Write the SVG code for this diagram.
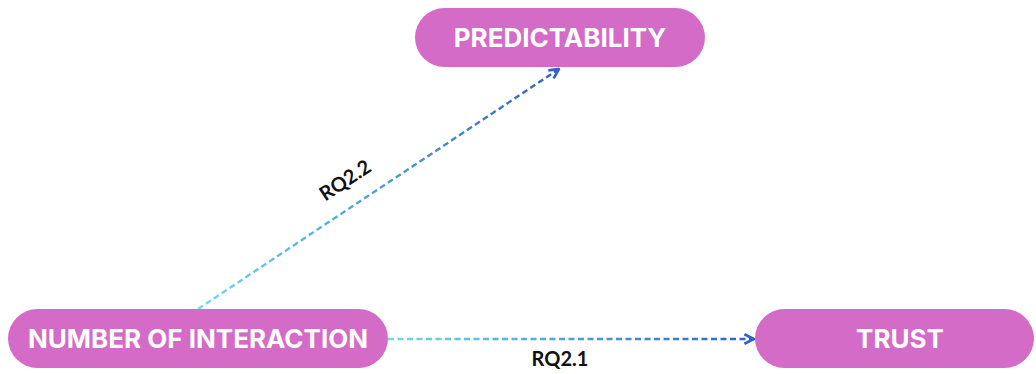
<svg xmlns="http://www.w3.org/2000/svg" width="1036" height="374" viewBox="0 0 1036 374">
<style>
.node{fill:#d46bc7;}
.nt{fill:#ffffff;font-family:Inter,"Noto Sans","Liberation Sans",sans-serif;font-weight:700;font-size:26px;text-anchor:middle;dominant-baseline:central;}
.edge{fill:none;stroke-width:2.4;stroke-dasharray:6 3.5;}
.lbl{fill:#111111;font-family:Lato,"Liberation Sans",sans-serif;font-weight:700;font-size:20px;text-anchor:middle;}
</style>
<defs>
<linearGradient id="g1" gradientUnits="userSpaceOnUse" x1="198" y1="309" x2="560" y2="68">
<stop offset="0" stop-color="#6ddcea"/>
<stop offset="1" stop-color="#2d63c2"/>
</linearGradient>
<linearGradient id="g2" gradientUnits="userSpaceOnUse" x1="388" y1="339" x2="755" y2="339">
<stop offset="0" stop-color="#6ddcea"/>
<stop offset="1" stop-color="#2d63c2"/>
</linearGradient>
<marker id="ah" viewBox="0 0 10 10" refX="9" refY="5" markerWidth="5" markerHeight="5" orient="auto" markerUnits="strokeWidth">
<path d="M1,1 L9,5 L1,9" fill="none" stroke="#2d63c2" stroke-width="2.2"/>
</marker>
</defs>
<g id="connectors">
<line class="edge" x1="198" y1="309" x2="559" y2="69" stroke="url(#g1)" marker-end="url(#ah)"/>
<line class="edge" x1="388" y1="339" x2="754" y2="339" stroke="url(#g2)" marker-end="url(#ah)"/>
<text class="lbl" transform="translate(349,186) rotate(-33.6)">RQ2.2</text>
<text class="lbl" x="560" y="366">RQ2.1</text>
</g>
<g id="predictability">
<rect class="node" x="415" y="8" width="290" height="59" rx="29.5"/>
<text class="nt" x="560" y="37.5">PREDICTABILITY</text>
</g>
<g id="number-of-interaction">
<rect class="node" x="8" y="309" width="380" height="59" rx="29.5"/>
<text class="nt" x="198" y="338.5">NUMBER OF INTERACTION</text>
</g>
<g id="trust">
<rect class="node" x="755" y="309" width="279" height="59" rx="29.5"/>
<text class="nt" x="900" y="338.5">TRUST</text>
</g>
</svg>
